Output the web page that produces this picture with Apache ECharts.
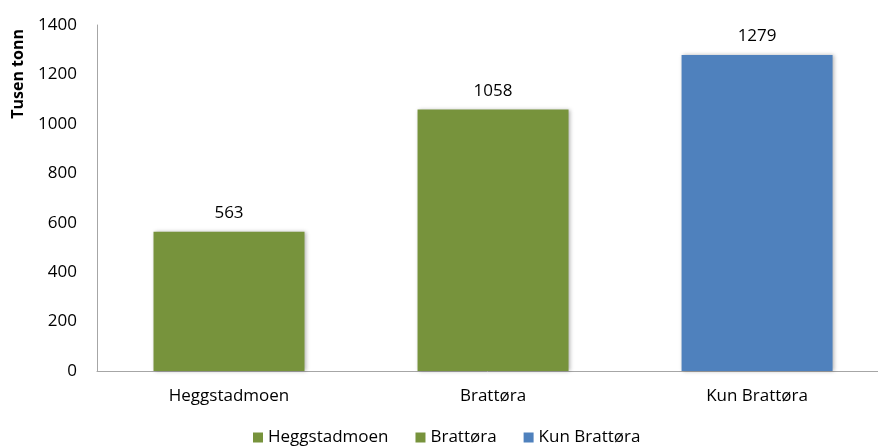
<!DOCTYPE html>
<html>
<head>
<meta charset="utf-8">
<script src="https://cdn.jsdelivr.net/npm/echarts@6/dist/echarts.min.js"></script>
<style>
  html, body { margin: 0; padding: 0; background: #fff; }
  #chart { width: 878px; height: 448px; }
</style>
</head>
<body>
<div id="chart"></div>
<script>
// data
const categories = ['Heggstadmoen', 'Brattøra', 'Kun Brattøra'];
const seriesNames = ['Heggstadmoen', 'Brattøra', 'Kun Brattøra'];
const values = [563, 1058, 1279];
const colors = ['#77933C', '#77933C', '#4F81BD'];
const yTicks = { min: 0, max: 1400, interval: 200 };

const chart = echarts.init(document.getElementById('chart'));
const font = "'Open Sans', 'Noto Sans', sans-serif";

// the original plot area runs a little past the right edge of the picture,
// so the x axis is a value axis over category indices, cut off at the right
const catIdx = categories.map((c, i) => i);
const xMin = -0.5;
const xMax = 2.458;

// one series per category so the legend gets three entries
const series = seriesNames.map((name, i) => ({
  name: name,
  type: 'bar',
  barWidth: 151,
  barGap: '-100%',
  data: [[catIdx[i], values[i]]],
  itemStyle: {
    color: colors[i],
    shadowColor: 'rgba(0,0,0,0.3)',
    shadowBlur: 4,
    shadowOffsetX: 1,
    shadowOffsetY: 0
  },
  label: {
    show: true,
    position: 'top',
    distance: 10,
    color: '#000',
    fontSize: 17,
    fontFamily: font,
    formatter: (p) => String(p.value[1])
  }
}));

chart.setOption({
  animation: false,
  grid: { left: 97, right: 0, top: 25, bottom: 77 },
  legend: {
    bottom: -3,
    left: 248,
    icon: 'rect',
    itemWidth: 10,
    itemHeight: 10,
    itemGap: 27,
    textStyle: { fontSize: 17, fontFamily: font, color: '#000' },
    data: seriesNames
  },
  graphic: [{
    type: 'text',
    left: 10,
    top: 29,
    rotation: Math.PI / 2,
    style: {
      text: 'Tusen tonn',
      font: "bold 16px 'Open Sans', 'Noto Sans', sans-serif",
      fill: '#000'
    }
  }],
  xAxis: {
    type: 'value',
    min: xMin,
    max: xMax,
    axisLine: { show: true, onZero: false, lineStyle: { color: '#A6A6A6' } },
    axisTick: { show: false },
    splitLine: { show: false },
    axisLabel: {
      margin: 17,
      fontSize: 17,
      fontFamily: font,
      color: '#000',
      showMinLabel: true,
      showMaxLabel: true,
      customValues: catIdx,
      formatter: (v) => categories[Math.round(v)] || ''
    }
  },
  yAxis: {
    type: 'value',
    min: yTicks.min,
    max: yTicks.max,
    interval: yTicks.interval,
    axisLine: { show: true, onZero: false, lineStyle: { color: '#A6A6A6' } },
    axisTick: { show: false },
    splitLine: { show: false },
    axisLabel: {
      margin: 20,
      fontSize: 17,
      fontFamily: font,
      color: '#000',
      formatter: (v) => String(v)
    }
  },
  series: series
});
</script>
</body>
</html>
